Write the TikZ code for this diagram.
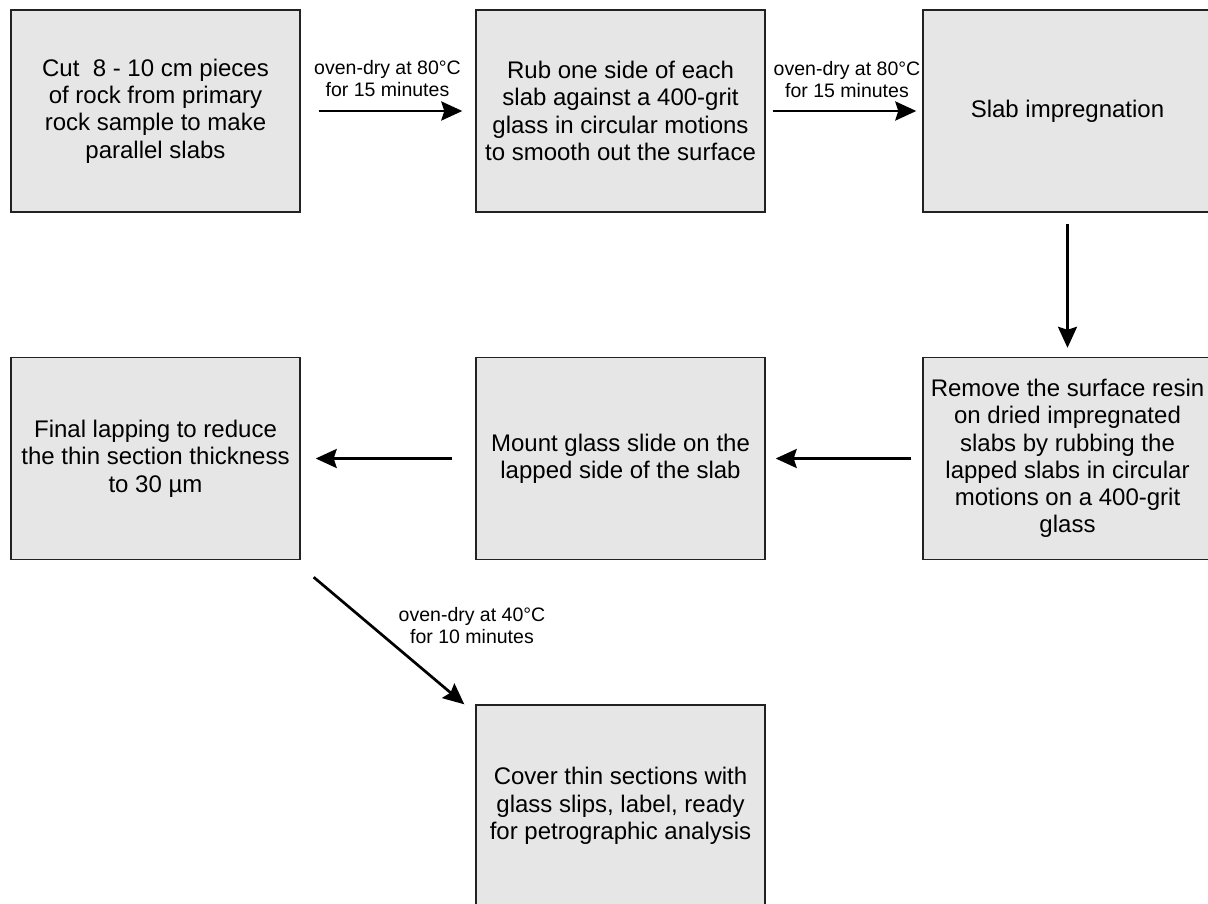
\documentclass[tikz,border=0pt]{standalone}
\usepackage{fontspec}
\setmainfont{Liberation Sans}
\usetikzlibrary{arrows.meta}
\definecolor{boxfill}{HTML}{E6E6E6}
\definecolor{boxline}{HTML}{222222}
\begin{document}
\begin{tikzpicture}[x=1pt,y=-1pt,
  stepbox/.style={draw=boxline, fill=boxfill, line width=1.4pt, minimum width=289pt, minimum height=202pt, inner sep=0pt, align=center, font=\fontsize{24}{27.3}\selectfont},
  arr/.style={line width=2.7pt, -{Stealth[length=21pt,width=19pt,inset=3pt]}},
  lbl/.style={align=center, font=\fontsize{19.5}{22}\selectfont, inner sep=0pt}]
\useasboundingbox (0,0) rectangle (1208,904);
\node[stepbox] (b1) at (155.5,111) {Cut\ \ 8 - 10 cm pieces\\of rock from primary\\rock sample to make\\parallel slabs};
\node[stepbox] (b2) at (620.5,111) {Rub one side of each\\slab against a 400-grit\\glass in circular motions\\to smooth out the surface};
\node[stepbox] (b3) at (1067.5,111) {Slab impregnation};
\node[stepbox] (b4) at (1067.5,458.5) {Remove the surface resin\\on dried impregnated\\slabs by rubbing the\\lapped slabs in circular\\motions on a 400-grit\\glass};
\node[stepbox] (b5) at (620.5,458.5) {Mount glass slide on the\\lapped side of the slab};
\node[stepbox] (b6) at (155.5,458.5) {Final lapping to reduce\\the thin section thickness\\to 30 µm};
\node[stepbox] (b7) at (620.5,806) {Cover thin sections with\\glass slips, label, ready\\for petrographic analysis};
\draw[arr, shorten <=18pt, shorten >=13pt] (b1.east) -- (b2.west);
\draw[arr, shorten <=7pt, shorten >=6pt] (b2.east) -- (b3.west);
\draw[arr, shorten <=11pt, shorten >=9pt] (b3.south) -- (b4.north);
\draw[arr, shorten <=11pt, shorten >=10pt] (b4.west) -- (b5.east);
\draw[arr, shorten <=23pt, shorten >=15pt] (b5.west) -- (b6.east);
\draw[arr] ([shift={(13,17)}]b6.south east) -- ([shift={(-11,0)}]b7.north west);
\node[lbl] (l1) at (387.5,79) {oven-dry at 80°C\\for 15 minutes};
\node[lbl] (l2) at (847,80) {oven-dry at 80°C\\for 15 minutes};
\node[lbl] (l3) at (472,626) {oven-dry at 40°C\\for 10 minutes};
\end{tikzpicture}
\end{document}
